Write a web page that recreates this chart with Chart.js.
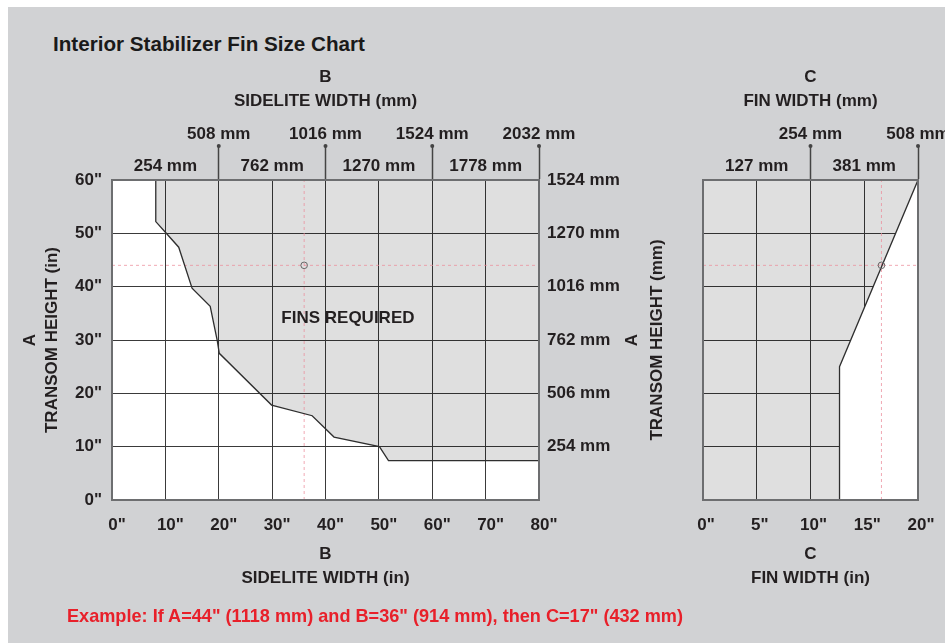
<!DOCTYPE html>
<html><head><meta charset="utf-8">
<script src="https://cdn.jsdelivr.net/npm/chart.js@4.4.1/dist/chart.umd.min.js"></script>
<style>
html,body{margin:0;padding:0;width:945px;height:643px;overflow:hidden;background:#fff;}
#bg{position:absolute;left:8px;top:7px;width:937px;height:636px;background:#d1d2d4;}
canvas{position:absolute;left:0;top:0;}
.cond{position:absolute;white-space:nowrap;transform-origin:0 50%;font-family:'Liberation Sans',Arial,sans-serif;font-weight:bold;}
#title{left:53px;top:33px;font-size:20px;color:#1a1a1a;}
#example{left:67px;top:605px;font-size:19px;color:#e8202a;}
</style></head>
<body>
<div id="bg"></div>
<div id="title" class="cond">Interior Stabilizer Fin Size Chart</div>
<canvas id="left" width="945" height="643"></canvas>
<canvas id="right" width="945" height="643"></canvas>
<div id="example" class="cond">Example: If A=44" (1118 mm) and B=36" (914 mm), then C=17" (432 mm)</div>
<script>
// ---- tick labels ----
const sideliteTicksIn = ['0"','10"','20"','30"','40"','50"','60"','70"','80"'];
const sideliteTicksMm = ['','254 mm','508 mm','762 mm','1016 mm','1270 mm','1524 mm','1778 mm','2032 mm'];
const transomTicksIn = ['0"','10"','20"','30"','40"','50"','60"'];
const transomTicksMm = ['','254 mm','506 mm','762 mm','1016 mm','1270 mm','1524 mm'];
const finTicksIn = ['0"','5"','10"','15"','20"'];
const finTicksMm = ['','127 mm','254 mm','381 mm','508 mm'];

// ---- boundary of "fins required" zone (B sidelite width in, A transom height in) ----
const finsBoundaryB = [8.2, 8.2, 10, 12.5, 15, 18.4, 19.7, 20.1, 29.9, 37.5, 41.6, 50.1, 51.8, 80];
const finsBoundaryA = [60, 52.2, 50.2, 47.4, 39.7, 36.3, 30, 27.5, 17.8, 15.8, 11.8, 10, 7.4, 7.4];

// ---- fin width boundary (C fin width in, A transom height in) ----
const finWidthBoundaryC = [20, 12.7, 12.7];
const finWidthBoundaryA = [60, 25, 0];

// ---- example ----
const exampleA = 44, exampleB = 36, exampleC = 16.6;

const sideliteMax = 80, transomMax = 60, finMax = 20;

// condensed headline text
[['title', 312], ['example', 616]].forEach(([id, w]) => {
  const el = document.getElementById(id);
  el.style.transform = 'scaleX(' + (w / el.getBoundingClientRect().width) + ')';
});

Chart.defaults.font.family = "'Liberation Sans', Arial, sans-serif";
Chart.defaults.font.weight = 'bold';
Chart.defaults.font.size = 17;
Chart.defaults.color = '#231f20';

const INK = '#2e2e2e', GRID = '#3a3a3a', BORDER = '#6d6e70', CROSS = 'rgba(236,140,155,0.75)';

function fix(w, h) {
  return s => {
    if (w != null) s.width = w;
    if (h != null) s.height = h;
    s.paddingLeft = 0; s.paddingRight = 0; s.paddingTop = 0; s.paddingBottom = 0;
  };
}
const whiteArea = { id: 'whiteArea', beforeDraw(chart) {
  const {ctx, chartArea: a} = chart; ctx.save(); ctx.fillStyle = '#fff';
  ctx.fillRect(a.left, a.top, a.right - a.left, a.bottom - a.top); ctx.restore(); } };
const tickDots = { id: 'tickDots', afterDraw(chart) {
  const s = chart.scales.x2; const tl = s.options.grid.tickLength; const ctx = chart.ctx;
  ctx.save(); ctx.fillStyle = '#444';
  s.ticks.forEach((t, i) => { if (i > 0 && i % 2 === 0) {
    ctx.beginPath(); ctx.arc(s.getPixelForValue(t.value), s.bottom - tl, 2, 0, Math.PI * 2); ctx.fill(); } });
  ctx.restore(); } };

const pts = (xs, ys) => xs.map((x, i) => ({x, y: ys[i]}));
const topTicks = labels => ({
  padding: -36, font: {size: 17, lineHeight: '32px'}, autoSkip: false, maxRotation: 0, minRotation: 0,
  callback: (v, i) => { const t = labels[i]; if (!t) return ''; return i % 2 === 0 ? [t, ''] : ['', t]; }
});
const topGrid = {drawOnChartArea: false, drawTicks: true, tickLength: 34, tickWidth: 1.5,
  tickColor: c => (c.index > 0 && c.index % 2 === 0) ? '#444' : 'rgba(0,0,0,0)'};
const border = {color: BORDER, width: 2, z: 1};
const titleFont = {size: 17, weight: 'bold', lineHeight: '24px'};

// ---------------- LEFT CHART ----------------
const finsLabel = {b: 44.2, a: 34.1, text: 'FINS REQUIRED'};
const finsText = { id: 'finsText', afterDatasetsDraw(chart) {
  const ctx = chart.ctx; ctx.save(); ctx.font = "bold 17px 'Liberation Sans', Arial, sans-serif";
  ctx.fillStyle = '#231f20'; ctx.textAlign = 'center'; ctx.textBaseline = 'middle';
  ctx.fillText(finsLabel.text, chart.scales.x.getPixelForValue(finsLabel.b), chart.scales.y.getPixelForValue(finsLabel.a));
  ctx.restore(); } };

new Chart(document.getElementById('left'), {
  type: 'scatter',
  data: { datasets: [
    { data: pts(finsBoundaryB, finsBoundaryA).concat([{x: sideliteMax, y: transomMax}]), showLine: true, fill: 'shape',
      backgroundColor: 'rgba(0,0,0,0.125)', borderColor: 'rgba(0,0,0,0)', borderWidth: 1, pointRadius: 0, order: 6 },
    { data: [{x: exampleB, y: 0}, {x: exampleB, y: transomMax}], showLine: true, borderColor: CROSS, borderWidth: 1,
      borderDash: [3, 3], pointRadius: 0, order: 5 },
    { data: [{x: 0, y: exampleA}, {x: sideliteMax, y: exampleA}], showLine: true, borderColor: CROSS, borderWidth: 1,
      borderDash: [3, 3], pointRadius: 0, order: 5 },
    { data: pts(finsBoundaryB, finsBoundaryA), showLine: true, fill: false, borderColor: INK, borderWidth: 1.3,
      pointRadius: 0, order: 2 },
    { data: [{x: exampleB, y: exampleA}], showLine: false, pointRadius: 3.3, pointBorderColor: '#666',
      pointBackgroundColor: 'rgba(0,0,0,0)', pointBorderWidth: 1, order: 1 }
  ]},
  options: {
    responsive: false, animation: false, events: [],
    layout: {padding: {left: 10, right: 306, top: 65, bottom: 53}},
    plugins: {legend: {display: false}, tooltip: {enabled: false}},
    scales: {
      x: { type: 'linear', position: 'bottom', min: 0, max: sideliteMax,
        ticks: {stepSize: 10, padding: 15, labelOffset: 5, autoSkip: false, maxRotation: 0, callback: (v, i) => sideliteTicksIn[i]},
        grid: {color: GRID, lineWidth: 1, drawTicks: false}, border,
        title: {display: true, text: ['B', 'SIDELITE WIDTH (in)'], font: titleFont, padding: 0, color: '#231f20'},
        afterFit: fix(null, 90) },
      x2: { type: 'linear', position: 'top', min: 0, max: sideliteMax,
        ticks: Object.assign({stepSize: 10}, topTicks(sideliteTicksMm)),
        grid: topGrid, border,
        title: {display: true, text: ['B', 'SIDELITE WIDTH (mm)'], font: titleFont, padding: 0, color: '#231f20'},
        afterFit: fix(null, 115) },
      y: { type: 'linear', position: 'left', min: 0, max: transomMax,
        ticks: {stepSize: 10, padding: 10, callback: (v, i) => transomTicksIn[i]},
        grid: {color: GRID, lineWidth: 1, drawTicks: false}, border,
        title: {display: true, text: ['A', 'TRANSOM HEIGHT (in)'], font: {size: 17, weight: 'bold', lineHeight: '22.5px'},
          padding: {top: 9, bottom: 0}, color: '#231f20'},
        afterFit: fix(102, null) },
      y2: { type: 'linear', position: 'right', min: 0, max: transomMax,
        ticks: {stepSize: 10, padding: 8, callback: (v, i) => transomTicksMm[i]},
        grid: {drawOnChartArea: false, drawTicks: false}, border,
        afterFit: fix(100, null) }
    }
  },
  plugins: [whiteArea, tickDots, finsText]
});

// ---------------- RIGHT CHART ----------------
const finBoundary = pts(finWidthBoundaryC, finWidthBoundaryA);
new Chart(document.getElementById('right'), {
  type: 'scatter',
  data: { datasets: [
    { data: [{x: 0, y: transomMax}].concat(finBoundary, [{x: 0, y: 0}]), showLine: true, fill: 'shape',
      backgroundColor: 'rgba(0,0,0,0.125)', borderColor: 'rgba(0,0,0,0)', borderWidth: 1, pointRadius: 0, order: 7 },
    { data: finBoundary.concat([{x: finMax, y: 0}]), showLine: true, fill: 'shape',
      backgroundColor: '#ffffff', borderColor: 'rgba(0,0,0,0)', borderWidth: 1, pointRadius: 0, order: 6 },
    { data: [{x: exampleC, y: 0}, {x: exampleC, y: transomMax}], showLine: true, borderColor: CROSS, borderWidth: 1,
      borderDash: [3, 3], pointRadius: 0, order: 5 },
    { data: [{x: 0, y: exampleA}, {x: finMax, y: exampleA}], showLine: true, borderColor: CROSS, borderWidth: 1,
      borderDash: [3, 3], pointRadius: 0, order: 5 },
    { data: finBoundary, showLine: true, fill: false, borderColor: INK, borderWidth: 1.3, pointRadius: 0, order: 2 },
    { data: [{x: exampleC, y: exampleA}], showLine: false, pointRadius: 3.3, pointBorderColor: '#666',
      pointBackgroundColor: 'rgba(0,0,0,0)', pointBorderWidth: 1, order: 1 }
  ]},
  options: {
    responsive: false, animation: false, events: [],
    layout: {padding: {left: 600, right: 27, top: 65, bottom: 53}},
    plugins: {legend: {display: false}, tooltip: {enabled: false}},
    scales: {
      x: { type: 'linear', position: 'bottom', min: 0, max: finMax,
        ticks: {stepSize: 5, padding: 15, labelOffset: 3, autoSkip: false, maxRotation: 0, callback: (v, i) => finTicksIn[i]},
        grid: {color: GRID, lineWidth: 1, drawTicks: false}, border,
        title: {display: true, text: ['C', 'FIN WIDTH (in)'], font: titleFont, padding: 0, color: '#231f20'},
        afterFit: fix(null, 90) },
      x2: { type: 'linear', position: 'top', min: 0, max: finMax,
        ticks: Object.assign({stepSize: 5}, topTicks(finTicksMm)),
        grid: topGrid, border,
        title: {display: true, text: ['C', 'FIN WIDTH (mm)'], font: titleFont, padding: 0, color: '#231f20'},
        afterFit: fix(null, 115) },
      y: { type: 'linear', position: 'left', min: 0, max: transomMax,
        ticks: {stepSize: 10, display: false},
        grid: {color: GRID, lineWidth: 1, drawTicks: false}, border,
        title: {display: true, text: ['A', 'TRANSOM HEIGHT (mm)'], font: {size: 17, weight: 'bold', lineHeight: '25px'},
          padding: {top: 19.5, bottom: 0}, color: '#231f20'},
        afterFit: fix(103, null) },
      y2: { type: 'linear', position: 'right', min: 0, max: transomMax,
        ticks: {display: false},
        grid: {drawOnChartArea: false, drawTicks: false}, border,
        afterFit: fix(0, null) }
    }
  },
  plugins: [whiteArea, tickDots]
});
</script>
</body></html>
